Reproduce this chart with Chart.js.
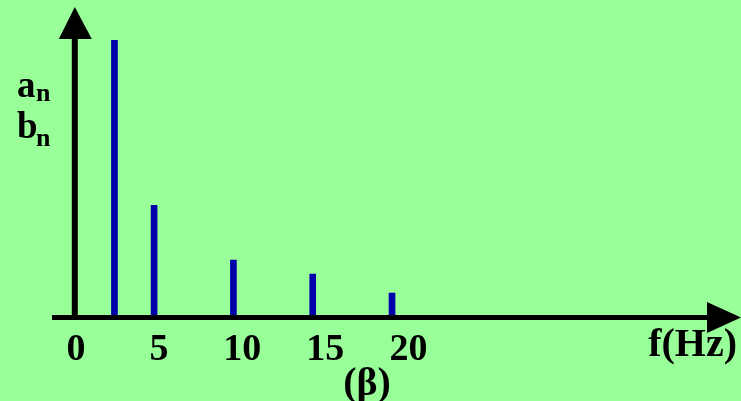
<!DOCTYPE html>
<html>
<head>
<meta charset="utf-8">
<script src="https://cdn.jsdelivr.net/npm/chart.js@4/dist/chart.umd.min.js"></script>
<style>
  html, body { margin: 0; padding: 0; background: #99ff99; overflow: hidden; }
  canvas { display: block; }
</style>
</head>
<body>
<canvas id="spectrum" width="741" height="401"></canvas>
<script>
// spectral lines (frequency in Hz, amplitude)
const freqs = [2.5, 5, 10, 15, 20];
const amps = [10, 4.05, 2.07, 1.57, 0.88];
const tickValues = [0, 5, 10, 15, 20];

const serif = '"Liberation Serif", "Times New Roman", serif';

// axes with arrow heads + the text labels around them
const axesPlugin = {
    id: 'axesArrows',
    afterDatasetsDraw(chart) {
        const c = chart.ctx;
        const x = chart.scales.x, y = chart.scales.y;
        const x0 = x.getPixelForValue(0);
        const y0 = y.getPixelForValue(0);
        const area = chart.chartArea;
        c.save();
        c.fillStyle = '#000';
        c.strokeStyle = '#000';

        // vertical axis
        c.lineWidth = 6;
        c.beginPath();
        c.moveTo(x0, y0 + 2.5);
        c.lineTo(x0, area.top + 30);
        c.stroke();
        c.beginPath();
        c.moveTo(x0, area.top);
        c.lineTo(x0 - 16, area.top + 32);
        c.lineTo(x0 + 17, area.top + 32);
        c.closePath();
        c.fill();

        // horizontal axis
        c.lineWidth = 5;
        c.beginPath();
        c.moveTo(area.left + 1, y0);
        c.lineTo(area.right - 32, y0);
        c.stroke();
        c.beginPath();
        c.moveTo(area.right, y0);
        c.lineTo(area.right - 34, y0 - 15.5);
        c.lineTo(area.right - 34, y0 + 15.5);
        c.closePath();
        c.fill();

        // labels
        c.textBaseline = 'alphabetic';
        c.textAlign = 'left';
        c.font = 'bold 37px ' + serif;
        c.fillText('a', 17, 97);
        c.fillText('b', 17, 138);
        c.font = 'bold 26px ' + serif;
        c.fillText('n', 36, 101);
        c.fillText('n', 36, 146);

        c.font = 'bold 40px ' + serif;
        c.textAlign = 'right';
        c.fillText('f(Hz)', 737, 356);
        c.textAlign = 'center';
        c.fillText('(\u03b2)', 367, 395);
        c.restore();
    }
};

new Chart(document.getElementById('spectrum'), {
    type: 'bar',
    data: {
        datasets: [{
            data: freqs.map((f, i) => ({ x: f, y: amps[i] })),
            backgroundColor: '#0000aa',
            borderWidth: 0,
            barThickness: 6,
            xAxisID: 'x',
            yAxisID: 'y'
        }]
    },
    options: {
        responsive: false,
        animation: false,
        events: [],
        layout: { padding: { left: 51, right: 0, top: 7, bottom: 0 } },
        plugins: {
            legend: { display: false },
            tooltip: { enabled: false }
        },
        scales: {
            x: { type: 'linear', min: -1.5, max: 42, offset: false, display: false },
            y: { type: 'linear', min: 0, max: 11.2, display: false },
            xTicks: {
                type: 'linear',
                position: 'bottom',
                min: -1.5,
                max: 40,
                offset: false,
                grid: { display: false, drawTicks: false },
                border: { display: false },
                afterBuildTicks: (scale) => {
                    scale.ticks = tickValues.map(v => ({ value: v }));
                },
                afterFit: (scale) => { scale.height = 83.5; },
                ticks: {
                    padding: 10,
                    color: '#000',
                    maxRotation: 0,
                    autoSkip: false,
                    font: { family: serif, size: 38, weight: 'bold' }
                }
            }
        }
    },
    plugins: [axesPlugin]
});
</script>
</body>
</html>
